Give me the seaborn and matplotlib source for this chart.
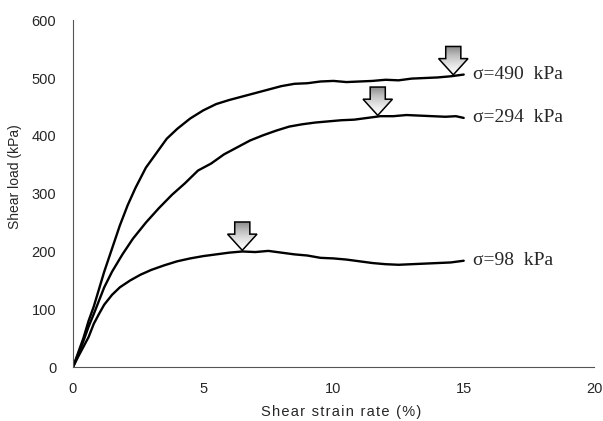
import numpy as np
import pandas as pd
import matplotlib
matplotlib.use("Agg")
import matplotlib.pyplot as plt
from matplotlib.patches import Polygon
import seaborn as sns

# Shear strain (%) and shear load (kPa) for each normal stress
x_490 = [0, 0.2, 0.4, 0.6, 0.8, 1.0, 1.2, 1.5, 1.8, 2.1, 2.4, 2.8, 3.2, 3.6, 4.0, 4.5,
         5.0, 5.5, 6.0, 6.5, 7.0, 7.5, 8.0, 8.5, 9.0, 9.5, 10.0, 10.5, 11.0, 11.5,
         12.0, 12.5, 13.0, 13.5, 14.0, 14.5, 15.0]
y_490 = [0, 25, 50, 80, 105, 135, 165, 205, 245, 280, 310, 345, 370, 395, 412, 430,
         444, 455, 462, 468, 474, 480, 486, 490, 491, 494, 495, 493, 494, 495,
         497, 496, 499, 500, 501, 503, 506]

x_294 = [0, 0.2, 0.4, 0.6, 0.8, 1.0, 1.2, 1.5, 1.9, 2.3, 2.8, 3.3, 3.8, 4.3, 4.8,
         5.3, 5.8, 6.3, 6.8, 7.3, 7.8, 8.3, 8.8, 9.3, 9.8, 10.3, 10.8, 11.3, 11.8,
         12.3, 12.8, 13.3, 13.8, 14.3, 14.7, 15.0]
y_294 = [0, 22, 45, 70, 92, 115, 138, 165, 195, 222, 250, 275, 298, 318, 340,
         352, 368, 380, 392, 401, 409, 416, 420, 423, 425, 427, 428, 431, 434,
         434, 436, 435, 434, 433, 434, 431]

x_98 = [0, 0.2, 0.4, 0.6, 0.8, 1.0, 1.2, 1.5, 1.8, 2.2, 2.6, 3.0, 3.5, 4.0, 4.5,
        5.0, 5.5, 6.0, 6.5, 7.0, 7.5, 8.0, 8.5, 9.0, 9.5, 10.0, 10.5, 11.0, 11.5,
        12.0, 12.5, 13.0, 13.5, 14.0, 14.5, 15.0]
y_98 = [0, 18, 35, 52, 75, 92, 108, 125, 138, 150, 160, 168, 176, 183, 188,
        192, 195, 198, 200, 199, 201, 198, 195, 193, 189, 188, 186, 183, 180,
        178, 177, 178, 179, 180, 181, 184]

series_labels = ["σ=490  kPa", "σ=294  kPa", "σ=98  kPa"]
# strain at which the peak load is marked
peak_strain = [14.6, 11.7, 6.5]

x_ticks = [0, 5, 10, 15, 20]
y_ticks = [0, 100, 200, 300, 400, 500, 600]

frames = []
for lab, xs, ys in zip(series_labels, [x_490, x_294, x_98], [y_490, y_294, y_98]):
    frames.append(pd.DataFrame({"strain": xs, "load": ys, "stress": lab}))
df = pd.concat(frames, ignore_index=True)

sns.set_style("white")
plt.rcParams["font.family"] = ["Liberation Sans", "DejaVu Sans"]

fig = plt.figure(figsize=(6.03, 4.21), dpi=100)
ax = fig.add_axes([0.121, 0.128, 0.864, 0.824])

sns.lineplot(data=df, x="strain", y="load", units="stress", estimator=None,
             color="black", lw=1.7, sort=False, ax=ax, legend=False)

# end-of-curve labels
for lab, xs, ys in zip(series_labels, [x_490, x_294, x_98], [y_490, y_294, y_98]):
    ax.text(xs[-1] + 0.35, ys[-1], lab, family=["Liberation Serif", "DejaVu Serif"],
            fontsize=14, va="center", ha="left")

# block arrows pointing at the peak load
head_w, shaft_w, head_h, shaft_h = 1.13, 0.58, 28, 21
grad = np.linspace(0.55, 0.0, 64).reshape(-1, 1)
for px, xs, ys in zip(peak_strain, [x_490, x_294, x_98], [y_490, y_294, y_98]):
    ty = np.interp(px, xs, ys) + 2
    pts = [(px, ty), (px - head_w / 2, ty + head_h), (px - shaft_w / 2, ty + head_h),
           (px - shaft_w / 2, ty + head_h + shaft_h), (px + shaft_w / 2, ty + head_h + shaft_h),
           (px + shaft_w / 2, ty + head_h), (px + head_w / 2, ty + head_h)]
    poly = Polygon(pts, closed=True, facecolor="none", edgecolor="black", lw=1.1, zorder=5)
    ax.add_patch(poly)
    im = ax.imshow(grad, cmap="Greys", vmin=0, vmax=1, aspect="auto", zorder=4,
                   extent=(px - head_w / 2, px + head_w / 2, ty, ty + head_h + shaft_h),
                   origin="upper")
    im.set_clip_path(poly)

ax.set_xlim(0, 20)
ax.set_ylim(0, 600)
ax.set_xticks(x_ticks)
ax.set_yticks(y_ticks)
ax.tick_params(axis="both", labelsize=10.5, length=3, width=0.7, color="#444444")
ax.tick_params(axis="x", direction="in", pad=11)
ax.tick_params(axis="y", direction="out", pad=9)

sns.despine(ax=ax)
for side in ("left", "bottom"):
    ax.spines[side].set_color("#555555")
    ax.spines[side].set_linewidth(0.8)
    ax.spines[side].set_linestyle((0, (2, 1)))

# letter-spaced axis title
xlabel = "\u200a".join("Shear strain rate (%)")
ax.set_xlabel(xlabel, fontsize=10.5, va="center")
ax.xaxis.set_label_coords(0.515, -0.13)
ax.set_ylabel("Shear load (kPa)", fontsize=10)
ax.yaxis.set_label_coords(-0.098, 0.55)

fig.savefig("out.png", dpi=100)
